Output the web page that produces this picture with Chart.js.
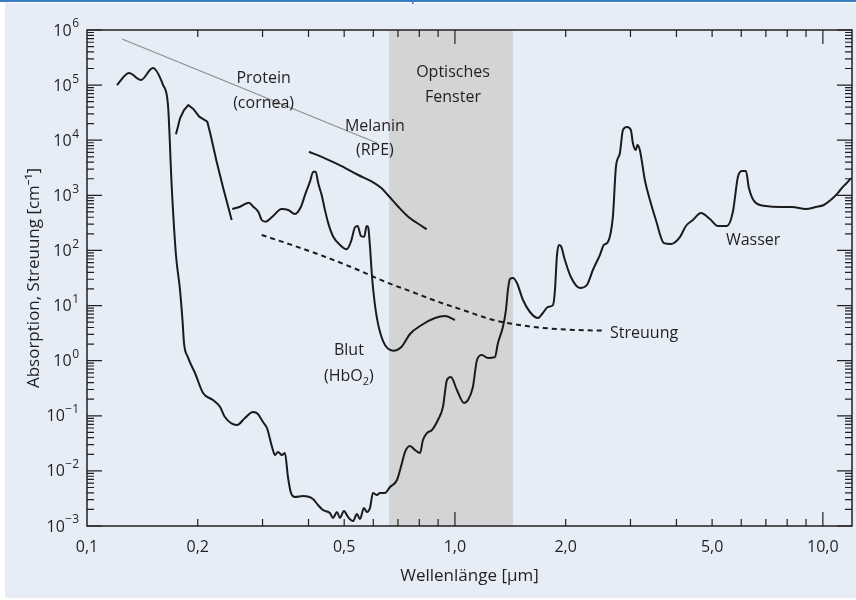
<!DOCTYPE html>
<html>
<head>
<meta charset="utf-8">
<script src="https://cdn.jsdelivr.net/npm/chart.js@4.4.1/dist/chart.umd.min.js"></script>
<style>
  html, body { margin: 0; padding: 0; background: #ffffff; }
  #wrap { width: 856px; height: 600px; }
</style>
</head>
<body>
<div id="wrap"><canvas id="chart" width="856" height="600"></canvas></div>
<script>
(function () {
  'use strict';

  // Wellenlänge in µm, Absorption / Streuung in 1/cm
  var waterX = [
    0.1206, 0.130, 0.1402, 0.151, 0.161, 0.166, 0.170, 0.1745, 0.179, 0.182,
    0.1835, 0.188, 0.1966, 0.2067, 0.220, 0.230, 0.237, 0.2557, 0.2687, 0.2825,
    0.2915, 0.3008, 0.3084, 0.3184, 0.3243, 0.3304, 0.3388, 0.3451, 0.3517, 0.3584,
    0.3674, 0.3864, 0.4113, 0.4244, 0.4379, 0.4574, 0.4661, 0.4779, 0.4870, 0.4993,
    0.5120, 0.5283, 0.5417, 0.5519, 0.5659, 0.5767, 0.5876, 0.5987, 0.6138, 0.6256,
    0.6455, 0.666, 0.6958, 0.7178, 0.7315, 0.7548, 0.7788, 0.8035, 0.8187, 0.8394,
    0.866, 0.899, 0.9277, 0.9512, 0.975, 1.0126, 1.058, 1.085, 1.119, 1.148,
    1.184, 1.229, 1.284, 1.309, 1.350, 1.376, 1.393, 1.411, 1.438, 1.474,
    1.531, 1.599, 1.681, 1.734, 1.789, 1.847, 1.870, 1.893, 1.917, 1.941,
    1.990, 2.066, 2.186, 2.284, 2.371, 2.477, 2.540, 2.605, 2.687, 2.739,
    2.808, 2.861, 2.934, 3.008, 3.045, 3.103, 3.132, 3.181, 3.282, 3.388,
    3.517, 3.698, 3.864, 4.088, 4.244, 4.434, 4.662, 4.932, 5.185, 5.483,
    5.693, 5.875, 6.025, 6.178, 6.295, 6.534, 7.0, 7.64, 8.24, 8.99,
    9.57, 10.06, 10.5, 10.98, 11.33, 11.69, 11.92
  ];
  var waterY = [
    1.0e5, 1.66e5, 1.24e5, 2.04e5, 1.0e5, 4.35e4, 1360, 82.6, 19.1, 4.82,
    2.09, 1.16, 0.597, 0.259, 0.193, 0.144, 0.095, 0.068, 0.091, 0.117,
    0.108, 0.077, 0.060, 0.0271, 0.0194, 0.0220, 0.0194, 0.0211, 0.00774, 0.00397,
    0.00336, 0.0035, 0.00309, 0.00240, 0.00195, 0.00172, 0.00140, 0.00179, 0.00140, 0.00187,
    0.00146, 0.00123, 0.00165, 0.00134, 0.00212, 0.00179, 0.00212, 0.00397, 0.00365, 0.00397,
    0.00397, 0.0051, 0.00684, 0.0139, 0.0220, 0.0283, 0.0239, 0.0211, 0.0363, 0.0486,
    0.0552, 0.0838, 0.144, 0.446, 0.505, 0.294, 0.171, 0.193, 0.333, 1.03,
    1.27, 1.12, 1.16, 2.09, 4.08, 8.30, 19.1, 30.3, 31.6, 25.6,
    12.6, 7.64, 5.94, 7.33, 9.42, 10.2, 19.1, 79.3, 126, 120,
    67.1, 33.0, 20.8, 23.6, 44.2, 82.6, 126, 142, 405, 3270,
    5860, 15300, 17400, 15300, 8910, 6650, 8180, 6650, 1900, 822,
    357, 136, 131, 175, 278, 357, 478, 372, 278, 278,
    499, 2150, 2770, 2770, 1360, 757, 640, 614, 614, 565,
    614, 668, 822, 1100, 1420, 1750, 2060
  ];

  var bloodUvX = [0.1745, 0.179, 0.1835, 0.1885, 0.1945, 0.2019, 0.2123, 0.2168, 0.2251, 0.2346, 0.2473];
  var bloodUvY = [1.28e4, 2.50e4, 3.53e4, 4.35e4, 3.69e4, 2.67e4, 2.17e4, 1.24e4, 4070, 1340, 357];

  var bloodX = [
    0.2482, 0.2605, 0.2756, 0.2831, 0.2921, 0.2984, 0.3060, 0.3176, 0.3382, 0.3524,
    0.3674, 0.3815, 0.3912, 0.4036, 0.4121, 0.4183, 0.4251, 0.4343, 0.4433, 0.4527,
    0.4670, 0.4870, 0.5078, 0.5217, 0.5350, 0.5440, 0.5553, 0.5669, 0.5754, 0.5812,
    0.5876, 0.5962, 0.6128, 0.6386, 0.6797, 0.7164, 0.7548, 0.8120, 0.8826, 0.9393,
    1.0
  ];
  var bloodY = [
    565, 622, 735, 622, 505, 357, 332, 399, 565, 542,
    459, 622, 1010, 1770, 2690, 2690, 1650, 1010, 542, 310,
    177, 126, 105, 144, 263, 278, 183, 177, 278, 263,
    117, 29.1, 6.28, 2.21, 1.52, 1.79, 3.05, 4.44, 5.94, 6.46,
    5.47
  ];

  var melaninX = [0.4011, 0.4433, 0.4921, 0.546, 0.595, 0.632, 0.659, 0.7015, 0.7465, 0.787, 0.8377];
  var melaninY = [6190, 4700, 3400, 2340, 1770, 1340, 993, 622, 409, 318, 242];

  var scatterX = [0.2984, 0.3599, 0.4433, 0.546, 0.6455, 0.7628, 0.9008, 1.065, 1.271, 1.566, 1.929, 2.540];
  var scatterY = [191, 126, 76.9, 44.2, 27.1, 17.8, 11.7, 8.07, 5.47, 4.26, 3.71, 3.50];

  var proteinX = [0.1245, 0.6138];
  var proteinY = [6.87e5, 8.91e3];

  var windowRange = [0.662, 1.438];

  var xTickValues = [0.1, 0.2, 0.5, 1, 2, 5, 10];
  var xTickLabels = ['0,1', '0,2', '0,5', '1,0', '2,0', '5,0', '10,0'];
  var xMinor = [0.2, 0.3, 0.4, 0.5, 0.6, 0.7, 0.8, 0.9, 2, 3, 4, 5, 6, 7, 8, 9];
  var xMajor = [1, 10];
  var yExponents = [-3, -2, -1, 0, 1, 2, 3, 4, 5, 6];

  var notes = [
    ['Protein', 0.302, 1.3e5, 'center'],
    ['(cornea)', 0.302, 4.7e4, 'center'],
    ['Melanin', 0.606, 1.81e4, 'center'],
    ['(RPE)', 0.606, 6.4e3, 'center'],
    ['Optisches', 0.988, 1.73e5, 'center'],
    ['Fenster', 0.988, 6.1e4, 'center'],
    ['Blut', 0.515, 1.56, 'center'],
    ['Streuung', 2.64, 3.18, 'left'],
    ['Wasser', 5.45, 155, 'left']
  ];

  var FONT = '"Open Sans", "Noto Sans", sans-serif';
  var INK = '#231f20';

  function points(xs, ys) {
    return xs.map(function (x, i) { return { x: x, y: ys[i] }; });
  }

  function curve(label, xs, ys, extra) {
    var ds = {
      label: label,
      data: points(xs, ys),
      borderColor: '#1b1b1b',
      borderWidth: 2,
      pointRadius: 0,
      fill: false,
      cubicInterpolationMode: 'monotone'
    };
    Object.keys(extra || {}).forEach(function (k) { ds[k] = extra[k]; });
    return ds;
  }

  var backdrop = {
    id: 'backdrop',
    beforeDraw: function (chart) {
      var ctx = chart.ctx;
      var a = chart.chartArea;
      var sx = chart.scales.x;
      ctx.save();
      ctx.fillStyle = '#ffffff';
      ctx.fillRect(0, 0, chart.width, chart.height);
      ctx.fillStyle = '#e6edf7';
      ctx.fillRect(5, 3, chart.width - 5, chart.height - 5);
      ctx.fillStyle = '#3a7cc1';
      ctx.fillRect(0, 0, chart.width, 2);
      ctx.fillRect(412, 0, 1.5, 4);
      var x0 = sx.getPixelForValue(windowRange[0]);
      var x1 = sx.getPixelForValue(windowRange[1]);
      ctx.fillStyle = '#d3d4d6';
      ctx.fillRect(x0, a.top, x1 - x0, a.bottom - a.top);
      ctx.restore();
    }
  };

  var frame = {
    id: 'frame',
    afterDraw: function (chart) {
      var ctx = chart.ctx;
      var a = chart.chartArea;
      var sx = chart.scales.x;
      var sy = chart.scales.y;
      ctx.save();
      ctx.strokeStyle = INK;
      ctx.lineWidth = 1.2;
      ctx.beginPath();
      function tickX(v, len) {
        var p = sx.getPixelForValue(v);
        ctx.moveTo(p, a.bottom); ctx.lineTo(p, a.bottom - len);
        ctx.moveTo(p, a.top); ctx.lineTo(p, a.top + len);
      }
      function tickY(v, len) {
        var p = sy.getPixelForValue(v);
        ctx.moveTo(a.left, p); ctx.lineTo(a.left + len, p);
        ctx.moveTo(a.right, p); ctx.lineTo(a.right - len, p);
      }
      xMinor.forEach(function (v) { tickX(v, 7); });
      xMajor.forEach(function (v) { tickX(v, 14); });
      yExponents.forEach(function (e) {
        var base = Math.pow(10, e);
        tickY(base, 15);
        if (e < 6) {
          for (var m = 2; m <= 9; m++) tickY(m * base, 7);
        }
      });
      ctx.stroke();
      ctx.lineWidth = 1.5;
      ctx.strokeRect(a.left, a.top, a.right - a.left, a.bottom - a.top);

      // y tick labels 10^n
      ctx.fillStyle = INK;
      ctx.textBaseline = 'middle';
      var right = a.left - 8;
      yExponents.forEach(function (e) {
        var p = sy.getPixelForValue(Math.pow(10, e));
        var sup = e < 0 ? '\u2212' + (-e) : String(e);
        ctx.font = '12px ' + FONT;
        var w = ctx.measureText(sup).width;
        ctx.textAlign = 'left';
        ctx.fillText(sup, right - w, p - 6);
        ctx.font = '16px ' + FONT;
        ctx.textAlign = 'right';
        ctx.fillText('10', right - w - 0.5, p + 1);
      });

      // annotations
      ctx.font = '16px ' + FONT;
      notes.forEach(function (n) {
        ctx.textAlign = n[3];
        ctx.fillText(n[0], sx.getPixelForValue(n[1]), sy.getPixelForValue(n[2]));
      });
      // (HbO2) with subscript
      var cx = sx.getPixelForValue(0.515);
      var cy = sy.getPixelForValue(0.527);
      ctx.font = '16px ' + FONT;
      var w1 = ctx.measureText('(HbO').width;
      var w3 = ctx.measureText(')').width;
      ctx.font = '11px ' + FONT;
      var w2 = ctx.measureText('2').width;
      var left = cx - (w1 + w2 + w3) / 2;
      ctx.textAlign = 'left';
      ctx.font = '16px ' + FONT;
      ctx.fillText('(HbO', left, cy);
      ctx.fillText(')', left + w1 + w2, cy);
      ctx.font = '11px ' + FONT;
      ctx.fillText('2', left + w1, cy + 6);
      ctx.restore();
    }
  };

  new Chart(document.getElementById('chart'), {
    type: 'line',
    data: {
      datasets: [
        curve('Protein (cornea)', proteinX, proteinY, { borderColor: '#8d8d8d', borderWidth: 1.2, cubicInterpolationMode: 'default', tension: 0 }),
        curve('Streuung', scatterX, scatterY, { borderDash: [5, 4] }),
        curve('Melanin (RPE)', melaninX, melaninY),
        curve('Blut UV', bloodUvX, bloodUvY, { cubicInterpolationMode: 'default', tension: 0 }),
        curve('Blut (HbO2)', bloodX, bloodY),
        curve('Wasser', waterX, waterY)
      ]
    },
    options: {
      responsive: false,
      animation: false,
      devicePixelRatio: 1,
      parsing: true,
      layout: { padding: { left: 20, right: 4, top: 30, bottom: 10 } },
      plugins: {
        legend: { display: false },
        tooltip: { enabled: false }
      },
      scales: {
        x: {
          type: 'logarithmic',
          min: 0.1,
          max: 12,
          grid: { display: false, drawTicks: false },
          border: { display: false },
          afterBuildTicks: function (scale) {
            scale.ticks = xTickValues.map(function (v) { return { value: v }; });
          },
          afterFit: function (scale) { scale.height = 64; },
          ticks: {
            autoSkip: false,
            maxRotation: 0,
            padding: 12,
            color: INK,
            font: { family: FONT, size: 16 },
            callback: function (value, index) { return xTickLabels[index]; }
          },
          title: {
            display: true,
            text: 'Wellenlänge [\u03bcm]',
            color: INK,
            font: { family: FONT, size: 17 }
          }
        },
        y: {
          type: 'logarithmic',
          min: 1e-3,
          max: 1e6,
          grid: { display: false, drawTicks: false },
          border: { display: false },
          ticks: { display: false },
          afterFit: function (scale) { scale.width = 67; },
          title: {
            display: true,
            text: 'Absorption, Streuung [cm\u207b\u00b9]',
            color: INK,
            font: { family: FONT, size: 17 }
          }
        }
      }
    },
    plugins: [backdrop, frame]
  });
})();
</script>
</body>
</html>
